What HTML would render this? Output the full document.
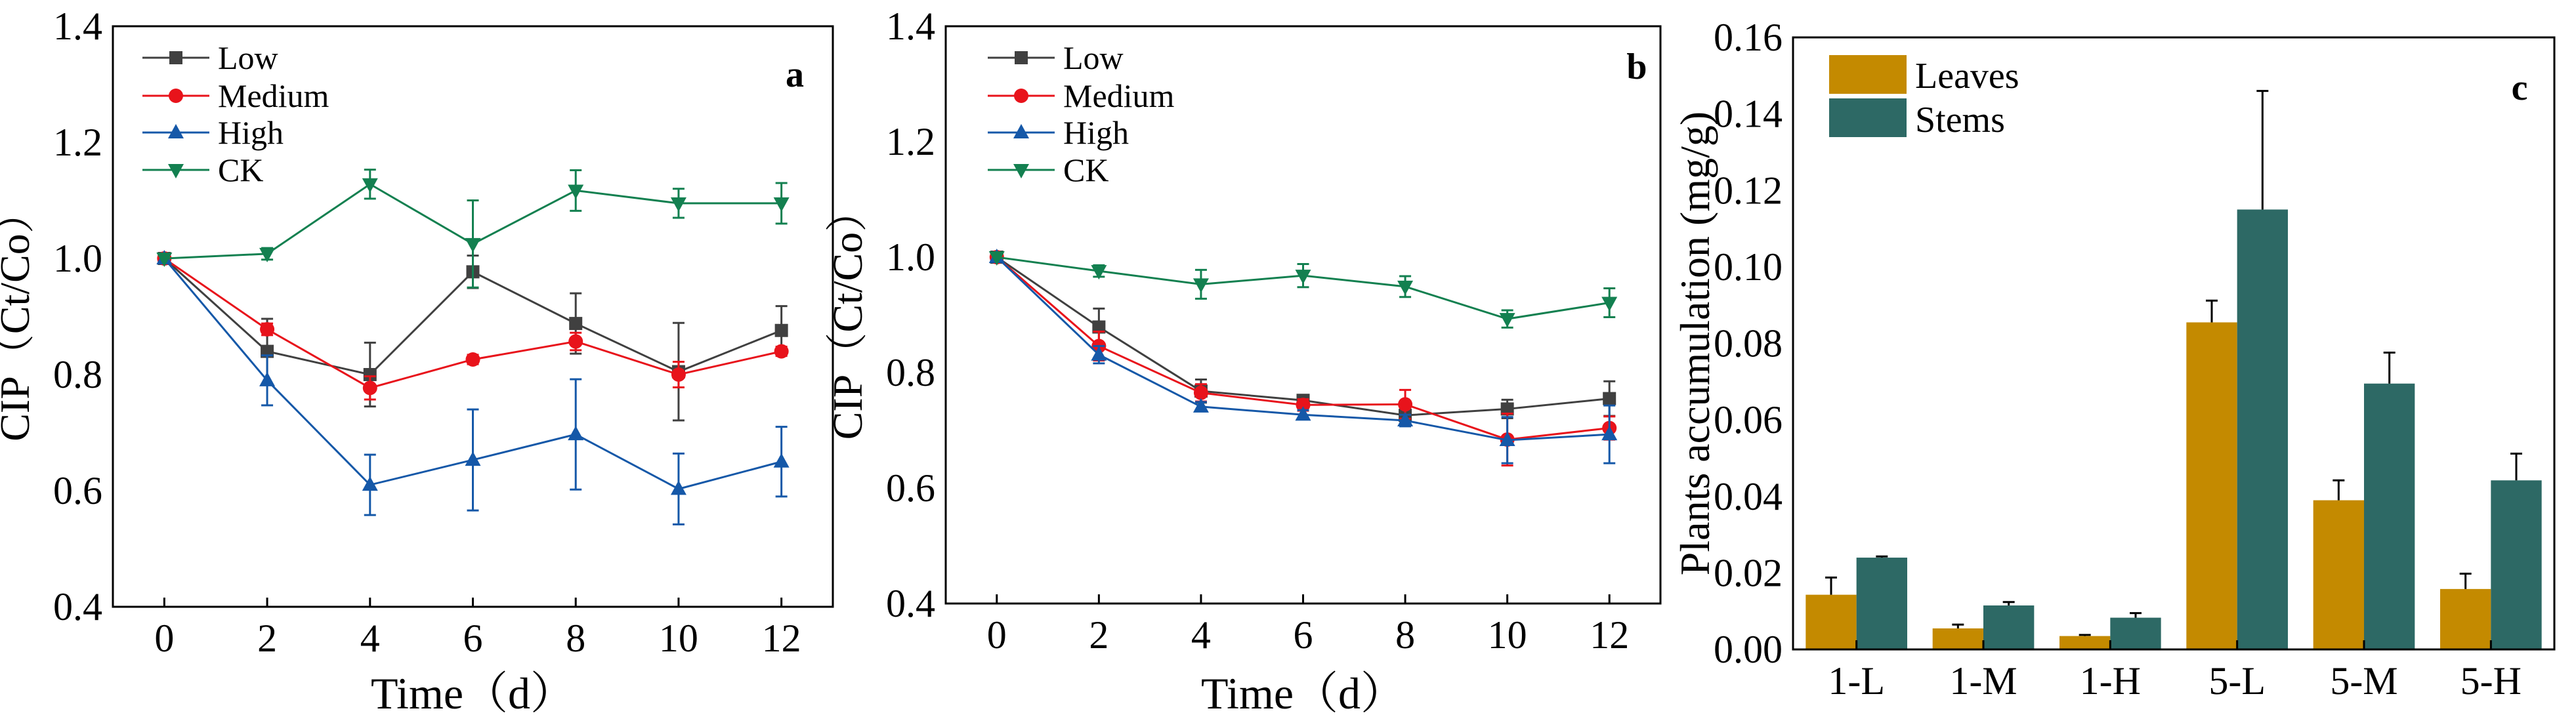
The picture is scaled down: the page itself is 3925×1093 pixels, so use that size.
<!DOCTYPE html>
<html><head><meta charset="utf-8">
<style>
html,body{margin:0;padding:0;background:#fff;}
svg{display:block;font-family:"Liberation Serif","Noto Serif CJK SC",serif;}
</style></head>
<body>
<svg id="fig" width="3925" height="1093" viewBox="0 0 3925 1093"></svg>
<script>
// ---------- data: panels a & b ----------
const days = [0, 2, 4, 6, 8, 10, 12];
const xTicks = [0, 2, 4, 6, 8, 10, 12];
const yTicksAB = [0.4, 0.6, 0.8, 1.0, 1.2, 1.4];
const seriesNames = ["Low", "Medium", "High", "CK"];
const aLow = [1.0, 0.84, 0.80, 0.977, 0.888, 0.805, 0.876];
const aLowErr = [0, 0.056, 0.055, 0.028, 0.052, 0.084, 0.042];
const aMed = [1.0, 0.878, 0.777, 0.826, 0.857, 0.80, 0.84];
const aMedErr = [0, 0.01, 0.02, 0.008, 0.015, 0.022, 0.008];
const aHigh = [1.0, 0.79, 0.61, 0.653, 0.697, 0.603, 0.65];
const aHighErr = [0, 0.043, 0.052, 0.087, 0.095, 0.061, 0.06];
const aCK = [1.0, 1.008, 1.128, 1.025, 1.117, 1.095, 1.095];
const aCKErr = [0, 0.01, 0.025, 0.075, 0.035, 0.025, 0.035];
const bLow = [1.0, 0.879, 0.768, 0.752, 0.726, 0.737, 0.755];
const bLowErr = [0, 0.032, 0.02, 0.006, 0.01, 0.016, 0.03];
const bMed = [1.0, 0.846, 0.765, 0.744, 0.745, 0.684, 0.704];
const bMedErr = [0, 0.025, 0.015, 0.01, 0.025, 0.045, 0.02];
const bHigh = [1.0, 0.831, 0.741, 0.727, 0.717, 0.683, 0.693];
const bHighErr = [0, 0.015, 0.008, 0.008, 0.01, 0.04, 0.05];
const bCK = [1.0, 0.976, 0.953, 0.968, 0.949, 0.893, 0.921];
const bCKErr = [0, 0.01, 0.025, 0.02, 0.018, 0.015, 0.025];
// ---------- data: panel c ----------
const groups = ["1-L", "1-M", "1-H", "5-L", "5-M", "5-H"];
const leaves = [0.0143, 0.0055, 0.0035, 0.0855, 0.039, 0.0158];
const leavesErr = [0.0045, 0.001, 0.0003, 0.0057, 0.0052, 0.004];
const stems = [0.024, 0.0115, 0.0083, 0.115, 0.0695, 0.0442];
const stemsErr = [0.0003, 0.0009, 0.0012, 0.031, 0.0081, 0.007];
const yTicksC = [0.00, 0.02, 0.04, 0.06, 0.08, 0.10, 0.12, 0.14, 0.16];

const NS = "http://www.w3.org/2000/svg";
const svg = document.getElementById("fig");
function mk(tag, attrs, parent, text) {
  const e = document.createElementNS(NS, tag);
  for (const k in attrs) e.setAttribute(k, attrs[k]);
  if (text !== undefined) e.textContent = text;
  (parent || svg).appendChild(e);
  return e;
}
const colors = ["#404040", "#e8131b", "#1558a8", "#138050"];
const markers = ["square", "circle", "up", "down"];

function marker(g, type, cx, cy, col) {
  const s = 10;
  let m;
  if (type === "square") m = mk("rect", {x: cx - s, y: cy - s, width: 2 * s, height: 2 * s, fill: col}, g);
  else if (type === "circle") m = mk("circle", {cx: cx, cy: cy, r: s + 1, fill: col}, g);
  else if (type === "up") m = mk("polygon", {points: `${cx},${cy - 13} ${cx - 12},${cy + 9} ${cx + 12},${cy + 9}`, fill: col}, g);
  else m = mk("polygon", {points: `${cx},${cy + 13} ${cx - 12},${cy - 9} ${cx + 12},${cy - 9}`, fill: col}, g);
  return m;
}

function linePanel(id, box, sets, errs, label, legX) {
  const g = mk("g", {}, svg);
  
  
  const X = v => box.l + (v + 1) / 14 * (box.r - box.l);
  const Y = v => box.b - (v - 0.4) / 1.0 * (box.b - box.t);
  xTicks.forEach(t => {
    const tk = mk("line", {x1: X(t), x2: X(t), y1: box.b, y2: box.b - 14, stroke: "#000", "stroke-width": 3}, g);
    
    
    const tl = mk("text", {x: X(t), y: box.b + 68, "text-anchor": "middle", "font-size": 60}, g, String(t));
    
    
  });
  yTicksAB.forEach(t => {
    const tl = mk("text", {x: box.l - 16, y: Y(t) + 20, "text-anchor": "end", "font-size": 60}, g, t.toFixed(1));
    
    
  });
  sets.forEach((vals, si) => {
    const col = colors[si];
    const sg = mk("g", {}, g);
    
    
    const pts = vals.map((v, i) => X(days[i]) + "," + Y(v)).join(" ");
    mk("polyline", {points: pts, fill: "none", stroke: col, "stroke-width": 3}, sg);
    vals.forEach((v, i) => {
      const e = errs[si][i];
      if (e > 0) {
        const x = X(days[i]);
        mk("line", {x1: x, x2: x, y1: Y(v - e), y2: Y(v + e), stroke: col, "stroke-width": 3}, sg);
        mk("line", {x1: x - 9, x2: x + 9, y1: Y(v - e), y2: Y(v - e), stroke: col, "stroke-width": 3}, sg);
        mk("line", {x1: x - 9, x2: x + 9, y1: Y(v + e), y2: Y(v + e), stroke: col, "stroke-width": 3}, sg);
      }
      const m = marker(sg, markers[si], X(days[i]), Y(v), col);
      
      
    });
  });
  const fr = mk("rect", {x: box.l, y: box.t, width: box.r - box.l, height: box.b - box.t, fill: "none", stroke: "#000", "stroke-width": 3}, g);
  
  
  const lg = mk("g", {}, g);
  
  
  const rows = [88, 146, 202, 259];
  seriesNames.forEach((n, i) => {
    const eg = mk("g", {}, lg);
    
    
    mk("line", {x1: legX, x2: legX + 102, y1: rows[i], y2: rows[i], stroke: colors[i], "stroke-width": 3}, eg);
    marker(eg, markers[i], legX + 51, rows[i], colors[i]);
    mk("text", {x: legX + 115, y: rows[i] + 17, "font-size": 50}, eg, n);
  });
  const pl = mk("text", {x: label[0], y: label[1], "text-anchor": "middle", "font-size": 56, "font-weight": "bold"}, g, id);
  
  
  const xt = mk("text", {x: (box.l + box.r) / 2, y: 1080, "text-anchor": "middle", "font-size": 68}, g, "Time（d）");
  
  
  const yx = box.l - 128, yy = (box.t + box.b) / 2;
  const yt = mk("text", {x: yx, y: yy, transform: `rotate(-90 ${yx} ${yy})`, "text-anchor": "middle", "font-size": 64}, g, "CIP（Ct/Co）");
  
  
}

linePanel("a", {l: 172, r: 1269, t: 40, b: 925}, [aLow, aMed, aHigh, aCK], [aLowErr, aMedErr, aHighErr, aCKErr], [1211, 132], 217);
linePanel("b", {l: 1441, r: 2530, t: 40, b: 920}, [bLow, bMed, bHigh, bCK], [bLowErr, bMedErr, bHighErr, bCKErr], [2494, 120], 1505);

// ---------- panel c ----------
(function () {
  const box = {l: 2732, r: 3892, t: 57, b: 990};
  const g = mk("g", {}, svg);
  
  
  const band = (box.r - box.l) / groups.length;
  const bw = band * 0.4;
  const Y = v => box.b - v / 0.16 * (box.b - box.t);
  const cx = i => box.l + band * (i + 0.5);
  yTicksC.forEach(t => {
    const tl = mk("text", {x: box.l - 16, y: Y(t) + 20, "text-anchor": "end", "font-size": 60}, g, t.toFixed(2));
    
    
  });
  const cols = ["#c48a00", "#2d6965"];
  [[leaves, leavesErr, "leaves"], [stems, stemsErr, "stems"]].forEach((s, si) => {
    s[0].forEach((v, i) => {
      const x0 = si === 0 ? cx(i) - bw : cx(i);
      const r = mk("rect", {x: x0, y: Y(v), width: bw, height: box.b - Y(v), fill: cols[si]}, g);
      
      
      const xm = x0 + bw / 2, e = s[1][i];
      mk("line", {x1: xm, x2: xm, y1: Y(v), y2: Y(v + e), stroke: "#000", "stroke-width": 3}, g);
      mk("line", {x1: xm - 9, x2: xm + 9, y1: Y(v + e), y2: Y(v + e), stroke: "#000", "stroke-width": 3}, g);
    });
  });
  groups.forEach((n, i) => {
    mk("line", {x1: cx(i), x2: cx(i), y1: box.b, y2: box.b - 14, stroke: "#000", "stroke-width": 3}, g);
    const tl = mk("text", {x: cx(i), y: 1058, "text-anchor": "middle", "font-size": 60}, g, n);
    
    
  });
  const fr = mk("rect", {x: box.l, y: box.t, width: box.r - box.l, height: box.b - box.t, fill: "none", stroke: "#000", "stroke-width": 3}, g);
  
  
  const lg = mk("g", {}, g);
  
  
  ["Leaves", "Stems"].forEach((n, i) => {
    const eg = mk("g", {}, lg);
    
    
    mk("rect", {x: 2787, y: 84 + i * 66, width: 118, height: 59, fill: cols[i]}, eg);
    mk("text", {x: 2918, y: 134 + i * 67, "font-size": 56}, eg, n);
  });
  const pl = mk("text", {x: 3839, y: 152, "text-anchor": "middle", "font-size": 56, "font-weight": "bold"}, g, "c");
  
  
  const yx = 2604, yy = (box.t + box.b) / 2;
  const yt = mk("text", {x: yx, y: yy, transform: `rotate(-90 ${yx} ${yy})`, "text-anchor": "middle", "font-size": 64}, g, "Plants accumulation (mg/g)");
  
  
})();
</script>
</body></html>
